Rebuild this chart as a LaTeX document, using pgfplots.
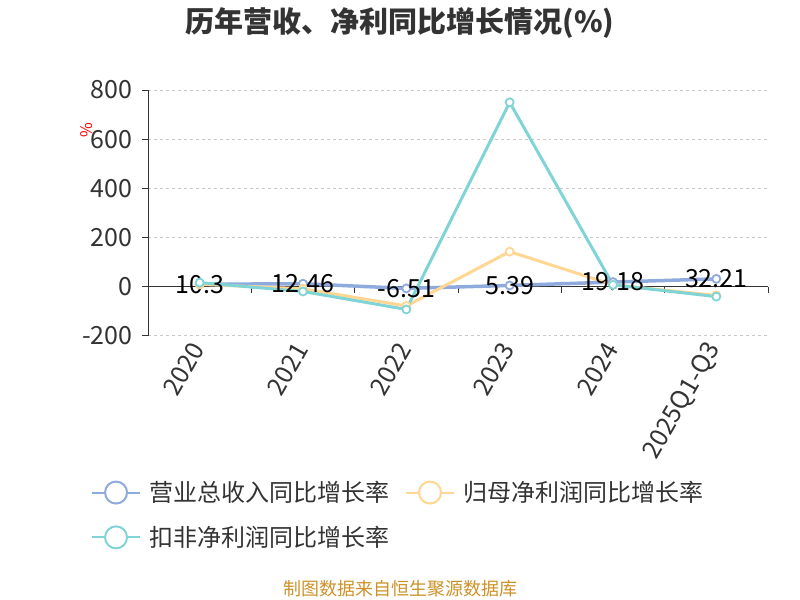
\documentclass[border=0pt]{standalone}
\usepackage{pgfplots}
\pgfplotsset{compat=1.18}
\usepackage{fontspec}
\setmainfont{Noto Sans CJK SC}
\definecolor{cBlue}{RGB}{143,170,220}
\definecolor{cOrange}{RGB}{255,214,146}
\definecolor{cCyan}{RGB}{128,212,214}
\definecolor{cText}{RGB}{51,51,51}
\definecolor{cGrid}{RGB}{200,200,200}
\definecolor{cSrc}{RGB}{204,145,40}
\pgfplotstableread{
x y label
0 10.3 10.3
1 12.46 12.46
2 -6.51 -6.51
3 5.39 5.39
4 19.18 19.18
5 32.21 32.21
}\revenue
\pgfplotstableread{
x y
0 10
1 -8
2 -78
3 143
4 8
5 -35
}\netprofit
\pgfplotstableread{
x y
0 17
1 -19
2 -92
3 750
4 8
5 -40
}\deducted
\begin{document}
\begin{tikzpicture}
\useasboundingbox (0,0) rectangle (800bp,600bp);
\node[font=\fontsize{29bp}{33bp}\selectfont\bfseries, text=cText] at (400bp,577bp) {历年营收、净利同比增长情况(\%)};
\begin{axis}[
 at={(148bp,264bp)}, anchor=south west,
 scale only axis, width=620bp, height=246bp,
 xmin=-0.5, xmax=5.5, ymin=-200, ymax=800,
 clip=false,
 axis x line=bottom, axis y line=left,
 x axis line style={draw=none},
 y axis line style={draw=cText, line width=1bp, -},
 xtick={0,...,5}, xticklabels={2020,2021,2022,2023,2024,2025Q1-Q3},
 xtick style={draw=none},
 xticklabel style={rotate=60, anchor=east, font=\fontsize{25bp}{28bp}\selectfont, text=cText},
 ytick={-200,0,200,400,600,800},
 yticklabels={-200,0,200,400,600,800},
 yticklabel style={font=\fontsize{25bp}{28bp}\selectfont, text=cText, xshift=-6bp},
 ytick style={draw=cText, line width=1bp},
 tick align=outside, major tick length=6bp,
 ymajorgrids, grid style={dashed, cGrid, line width=1bp},
 legend style={at={(axis description cs:-0.097,-0.575)}, anchor=north west, draw=none, fill=none,
   font=\fontsize{24bp}{28bp}\selectfont, text=cText,
   /tikz/every odd column/.append style={column sep=6bp},
   /tikz/every even column/.append style={column sep=14bp}, row sep=19bp},
 legend columns=2, legend cell align=left,
]
\draw[cText, line width=1bp] (axis cs:-0.5,0) -- (axis cs:5.5,0);
\pgfplotsinvokeforeach{0.5,1.5,2.5,3.5,4.5,5.5}{\draw[cText, line width=1bp] (axis cs:#1,0) -- ([yshift=-6bp]axis cs:#1,0);}
\addplot[cBlue, line width=3.5bp, mark=*, mark size=4bp, mark options={fill=white, draw=cBlue, line width=1.8bp},
  nodes near coords, point meta=explicit symbolic,
  every node near coord/.append style={anchor=center, font=\fontsize{25bp}{28bp}\selectfont, text=black},
  legend image code/.code={\draw[cBlue, line width=2bp] (0bp,0bp) -- (48bp,0bp); \draw[cBlue, line width=2bp, fill=white] (24bp,0bp) circle (11bp);}
  ] table[x=x, y=y, meta=label] {\revenue};
\addlegendentry{营业总收入同比增长率}
\addplot[cOrange, line width=3bp, mark=*, mark size=4bp, mark options={fill=white, draw=cOrange, line width=1.8bp},
  legend image code/.code={\draw[cOrange, line width=2bp] (0bp,0bp) -- (48bp,0bp); \draw[cOrange, line width=2bp, fill=white] (24bp,0bp) circle (11bp);}
  ] table[x=x, y=y] {\netprofit};
\addlegendentry{归母净利润同比增长率}
\addplot[cCyan, line width=3bp, mark=*, mark size=4bp, mark options={fill=white, draw=cCyan, line width=1.8bp},
  legend image code/.code={\draw[cCyan, line width=2bp] (0bp,0bp) -- (48bp,0bp); \draw[cCyan, line width=2bp, fill=white] (24bp,0bp) circle (11bp);}
  ] table[x=x, y=y] {\deducted};
\addlegendentry{扣非净利润同比增长率}
\end{axis}
\node[rotate=90, text=red, font=\fontsize{16bp}{18bp}\selectfont] at (87bp,470bp) {\%};
\node[text=cSrc, font=\fontsize{18bp}{21bp}\selectfont] at (400bp,11bp) {制图数据来自恒生聚源数据库};
\end{tikzpicture}
\end{document}
